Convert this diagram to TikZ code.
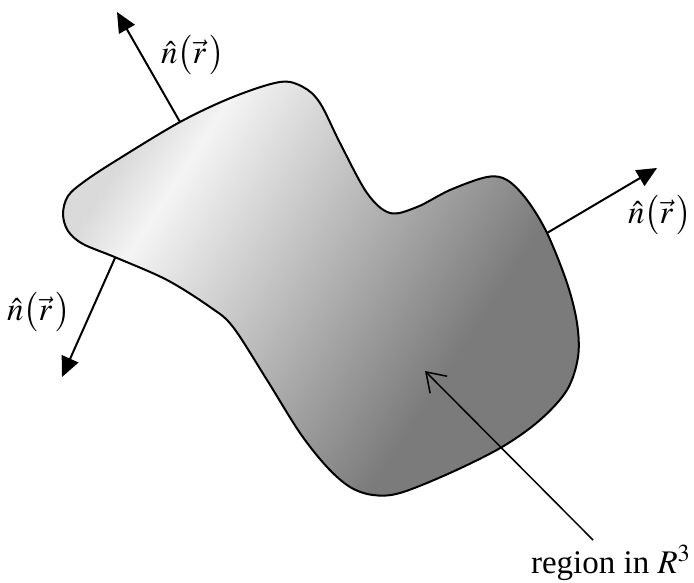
\documentclass[tikz,border=0pt]{standalone}
\usepackage{mathptmx}
\usepackage{fontspec}
\setmainfont{Liberation Serif}
\usetikzlibrary{arrows.meta}

\definecolor{blobedge}{HTML}{DADADA}
\definecolor{bloblight}{HTML}{F4F4F4}
\definecolor{blobdark}{HTML}{7B7B7B}
\pgfdeclarehorizontalshading{blobshade}{100bp}{%
    color(0bp)=(blobedge); color(25bp)=(blobedge); color(31bp)=(bloblight);
    color(66bp)=(blobdark); color(100bp)=(blobdark)}

\tikzset{
    % --- the region itself ---
    region/.style = {
        draw, line width=1pt, shading=blobshade, shading angle=-33
    },
    % --- outward normal arrow ---
    normal arrow/.style = {
        -{Triangle[length=10pt, width=9pt]}, line width=1pt
    },
    % --- thin pointer to the region ---
    pointer/.style = {
        -{Straight Barb[length=9pt, width=12pt, line width=0.75pt]}, line width=0.75pt
    },
    % --- text labels ---
    label text/.style = {
        font=\fontsize{16.5}{20}\selectfont, inner sep=0pt
    }
}
\newcommand{\normalvec}{$\hat{n}\bigl(\vec{r}\,\bigr)$}

\begin{document}
\begin{tikzpicture}[x=0.5pt, y=-0.5pt]
\useasboundingbox (0,0) rectangle (694,582);

% ---------------------------------------------------------
% Region outline
% ---------------------------------------------------------
\path[region] plot[smooth cycle, tension=0.55] coordinates {
    (63,214) (68,196) (85,181) (117,160) (180,122) (233,97) (280,82) (303,87)
    (320,103) (340,143) (367,193) (390,213) (417,207) (450,190) (487,177)
    (507,180) (527,200) (547,233) (567,283) (577,323) (578,357) (567,390)
    (540,420) (502,447) (450,473) (400,493) (373,495) (350,487) (327,467)
    (300,433) (267,380) (233,327) (210,307) (167,280) (117,258) (83,244)
    (68,231)};

% ---------------------------------------------------------
% Points on the surface and arrow tips
% ---------------------------------------------------------
\coordinate (TopFoot) at (180,122);
\coordinate (TopTip) at (117,12);
\coordinate (LeftFoot) at (115,258);
\coordinate (LeftTip) at (62,377);
\coordinate (RightFoot) at (547,233);
\coordinate (RightTip) at (657,168);
\coordinate (PointTail) at (593,540);
\coordinate (PointTip) at (425,371);

% ---------------------------------------------------------
% Normals
% ---------------------------------------------------------
\draw[normal arrow] (TopFoot) -- (TopTip);
\draw[normal arrow] (LeftFoot) -- (LeftTip);
\draw[normal arrow] (RightFoot) -- (RightTip);

\node[label text] (TopNormal) at (193,55) {\normalvec};
\node[label text] (LeftNormal) at (39,312) {\normalvec};
\node[label text] (RightNormal) at (660,215) {\normalvec};

% ---------------------------------------------------------
% Region label
% ---------------------------------------------------------
\draw[pointer] (PointTail) -- (PointTip);
\node[label text, anchor=base] (RegionLabel) at (611,573) {region in $R^3$};

\end{tikzpicture}
\end{document}
